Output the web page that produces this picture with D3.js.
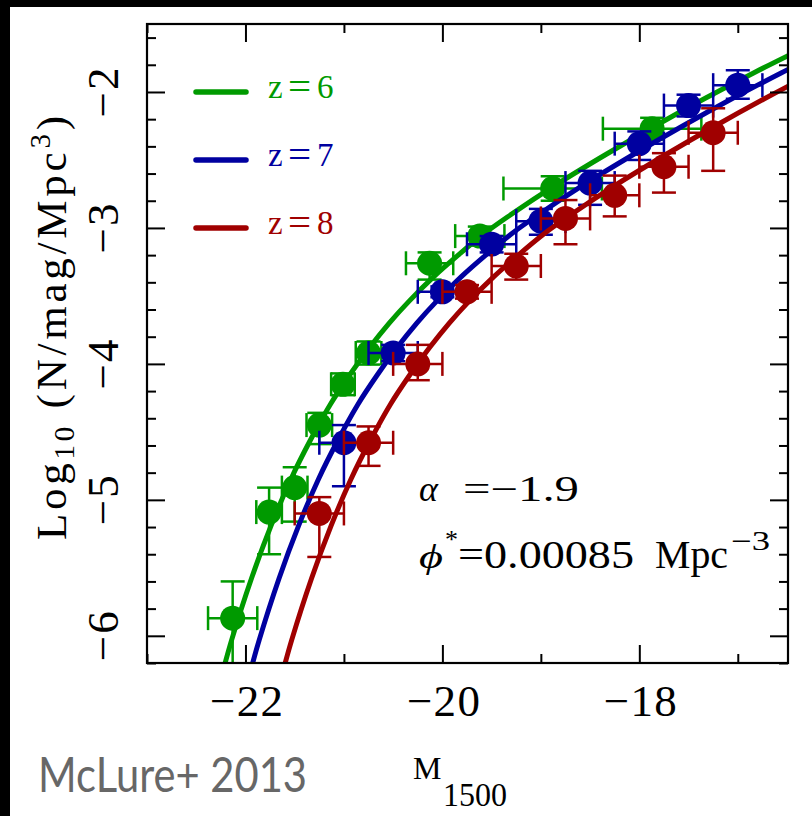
<!DOCTYPE html>
<html>
<head>
<meta charset="utf-8">
<script src="https://cdn.jsdelivr.net/npm/d3@7"></script>
<style>
  html, body { margin: 0; padding: 0; background: #000; }
  svg { display: block; }
</style>
</head>
<body>
<svg id="chart" width="812" height="816"></svg>
<script>
// UV luminosity functions at z = 6, 7, 8 with Schechter fits
// (alpha = -1.9, phi* = 0.00085 Mpc^-3), after McLure et al. 2013.

const seriesNames = ["z=6", "z=7", "z=8"];
const seriesColors = ["#009a00", "#0000a0", "#a00000"];

// Binned measurements: M1500, log10 number density and its errors
const z6M      = [-22.13, -21.76, -21.50, -21.25, -21.01, -20.75, -20.13, -19.62, -18.88, -17.87];
const z6LogPhi = [-5.87, -5.09, -4.91, -4.45, -4.15, -3.92, -3.26, -3.06, -2.71, -2.27];
const z6ErrM   = [0.25, 0.13, 0.13, 0.13, 0.12, 0.13, 0.24, 0.25, 0.50, 0.50];
const z6ErrUp  = [0.27, 0.18, 0.15, 0.09, 0.08, 0.085, 0.08, 0.07, 0.09, 0.08];
const z6ErrLo  = [0.45, 0.31, 0.25, 0.14, 0.08, 0.085, 0.12, 0.07, 0.09, 0.08];

const z7M      = [-21.00, -20.50, -20.00, -19.50, -19.00, -18.50, -18.00, -17.50, -17.00];
const z7LogPhi = [-4.58, -3.92, -3.47, -3.12, -2.95, -2.67, -2.38, -2.10, -1.95];
const z7ErrM   = [0.25, 0.25, 0.25, 0.25, 0.25, 0.25, 0.25, 0.25, 0.25];
const z7ErrUp  = [0.13, 0.06, 0.04, 0.06, 0.09, 0.09, 0.09, 0.08, 0.11];
const z7ErrLo  = [0.32, 0.06, 0.04, 0.06, 0.10, 0.16, 0.12, 0.08, 0.10];

const z8M      = [-21.25, -20.75, -20.25, -19.75, -19.25, -18.75, -18.25, -17.75, -17.25];
const z8LogPhi = [-5.10, -4.58, -4.00, -3.47, -3.28, -2.93, -2.76, -2.55, -2.30];
const z8ErrM   = [0.25, 0.25, 0.25, 0.25, 0.25, 0.25, 0.25, 0.25, 0.25];
const z8ErrUp  = [0.12, 0.12, 0.14, 0.05, 0.09, 0.135, 0.145, 0.10, 0.18];
const z8ErrLo  = [0.32, 0.17, 0.12, 0.05, 0.10, 0.19, 0.155, 0.19, 0.28];

// Fitted curves, sampled along magnitude
const z6FitM      = [-22.34, -22.24, -22.14, -21.94, -21.74, -21.54, -21.34, -21.14, -20.94, -20.74, -20.54, -20.34, -20.09, -19.84, -19.59, -19.34, -18.84, -18.34, -17.84, -17.34, -16.84, -16.34];
const z6FitLogPhi = [-6.57, -6.29, -6.03, -5.58, -5.19, -4.85, -4.56, -4.30, -4.08, -3.88, -3.70, -3.54, -3.36, -3.20, -3.05, -2.92, -2.68, -2.46, -2.25, -2.05, -1.86, -1.68];
const z7FitM      = [-22.06, -21.96, -21.86, -21.66, -21.46, -21.26, -21.06, -20.86, -20.66, -20.46, -20.26, -20.06, -19.81, -19.56, -19.31, -19.06, -18.56, -18.06, -17.56, -17.06, -16.56, -16.06];
const z7FitLogPhi = [-6.57, -6.29, -6.03, -5.58, -5.19, -4.85, -4.56, -4.30, -4.08, -3.88, -3.70, -3.54, -3.36, -3.20, -3.05, -2.92, -2.68, -2.46, -2.25, -2.05, -1.86, -1.68];
const z8FitM      = [-21.73, -21.63, -21.53, -21.33, -21.13, -20.93, -20.73, -20.53, -20.33, -20.13, -19.93, -19.73, -19.48, -19.23, -18.98, -18.73, -18.23, -17.73, -17.23, -16.73, -16.23, -15.73];
const z8FitLogPhi = [-6.57, -6.29, -6.03, -5.58, -5.19, -4.85, -4.56, -4.30, -4.08, -3.88, -3.70, -3.54, -3.36, -3.20, -3.05, -2.92, -2.68, -2.46, -2.25, -2.05, -1.86, -1.68];

// Axis ticks
const xMajorTicks = [-22, -20, -18];
const xMinorTicks = [-23, -21, -19, -17];
const yMajorTicks = [-6, -5, -4, -3, -2];
const yMinorTicks = d3.range(-6.2, -1.49, 0.2).map(v => +v.toFixed(1)).filter(v => !yMajorTicks.includes(v));

const xDomain = [-23, -16.49];
const yDomain = [-6.2, -1.5];

// ---------------------------------------------------------------
const svg = d3.select("#chart");
const W = 812, H = 816;
const plot = { left: 147, right: 788, top: 24, bottom: 663 };
const serif = "'Liberation Serif', 'Times New Roman', serif";
const intFmt = d3.format("d");

svg.append("rect").attr("width", W).attr("height", H).attr("fill", "#000");
svg.append("rect").attr("x", 10).attr("y", 7).attr("width", W - 10).attr("height", H - 7).attr("fill", "#fff");

const x = d3.scaleLinear().domain(xDomain).range([plot.left, plot.right]);
const y = d3.scaleLinear().domain(yDomain).range([plot.bottom, plot.top]);

svg.append("defs").append("clipPath").attr("id", "plotClip")
  .append("rect")
  .attr("x", plot.left).attr("y", plot.top)
  .attr("width", plot.right - plot.left).attr("height", plot.bottom - plot.top);

const series = [
  { name: seriesNames[0], color: seriesColors[0], M: z6M, v: z6LogPhi, eM: z6ErrM, eUp: z6ErrUp, eLo: z6ErrLo, fitM: z6FitM, fitV: z6FitLogPhi },
  { name: seriesNames[1], color: seriesColors[1], M: z7M, v: z7LogPhi, eM: z7ErrM, eUp: z7ErrUp, eLo: z7ErrLo, fitM: z7FitM, fitV: z7FitLogPhi },
  { name: seriesNames[2], color: seriesColors[2], M: z8M, v: z8LogPhi, eM: z8ErrM, eUp: z8ErrUp, eLo: z8ErrLo, fitM: z8FitM, fitV: z8FitLogPhi }
];

const line = d3.line()
  .x(d => x(d[0])).y(d => y(d[1]))
  .curve(d3.curveCatmullRom.alpha(0.5));

const data = svg.append("g").attr("clip-path", "url(#plotClip)");
const cap = 12;

series.forEach(s => {
  const g = data.append("g");
  g.append("path")
    .datum(s.fitM.map((m, i) => [m, s.fitV[i]]))
    .attr("d", line)
    .attr("fill", "none")
    .attr("stroke", s.color)
    .attr("stroke-width", 5)
    .attr("stroke-linecap", "round");

  const pts = s.M.map((m, i) => ({ m, v: s.v[i], eM: s.eM[i], up: s.eUp[i], lo: s.eLo[i] }));
  const eb = g.append("g").attr("stroke", s.color).attr("stroke-width", 2.5).attr("fill", "none");
  pts.forEach(p => {
    const cx = x(p.m), cy = y(p.v);
    const x0 = x(p.m - p.eM), x1 = x(p.m + p.eM);
    const y0 = y(p.v + p.up), y1 = y(p.v - p.lo);
    eb.append("line").attr("x1", x0).attr("x2", x1).attr("y1", cy).attr("y2", cy);
    eb.append("line").attr("x1", x0).attr("x2", x0).attr("y1", cy - cap).attr("y2", cy + cap);
    eb.append("line").attr("x1", x1).attr("x2", x1).attr("y1", cy - cap).attr("y2", cy + cap);
    eb.append("line").attr("x1", cx).attr("x2", cx).attr("y1", y0).attr("y2", y1);
    eb.append("line").attr("x1", cx - cap).attr("x2", cx + cap).attr("y1", y0).attr("y2", y0);
    eb.append("line").attr("x1", cx - cap).attr("x2", cx + cap).attr("y1", y1).attr("y2", y1);
  });
  g.append("g").selectAll("circle").data(pts).join("circle")
    .attr("cx", d => x(d.m)).attr("cy", d => y(d.v))
    .attr("r", 12.5).attr("fill", s.color);
});

// ---- axes: ticks point into the frame on all four sides
const axisG = svg.append("g").attr("font-family", serif);
function tickAxis(gen, scale, vals, len, tx, ty) {
  const a = axisG.append("g")
    .attr("transform", `translate(${tx},${ty})`)
    .call(gen(scale).tickValues(vals).tickSizeInner(-len).tickSizeOuter(0).tickFormat(""));
  a.select(".domain").remove();
  a.selectAll(".tick line").attr("stroke", "#000").attr("stroke-width", 2);
  return a;
}
tickAxis(d3.axisBottom, x, xMinorTicks, 9, 0, plot.bottom);
tickAxis(d3.axisTop, x, xMinorTicks, 9, 0, plot.top);
tickAxis(d3.axisTop, x, xMajorTicks, 18, 0, plot.top);
tickAxis(d3.axisLeft, y, yMinorTicks, 9, plot.left, 0);
tickAxis(d3.axisRight, y, yMinorTicks, 9, plot.right, 0);
tickAxis(d3.axisRight, y, yMajorTicks, 18, plot.right, 0);

const xAxis = axisG.append("g")
  .attr("transform", `translate(0,${plot.bottom})`)
  .call(d3.axisBottom(x).tickValues(xMajorTicks).tickFormat(intFmt)
    .tickSizeInner(-18).tickSizeOuter(0).tickPadding(21));
xAxis.select(".domain").remove();
xAxis.selectAll(".tick line").attr("stroke", "#000").attr("stroke-width", 2);
xAxis.selectAll(".tick text")
  .attr("font-family", serif).attr("font-size", 45).attr("fill", "#000")
  .attr("textLength", 73).attr("lengthAdjust", "spacing")
  .attr("x", -36).attr("text-anchor", "start");

const yAxis = axisG.append("g")
  .attr("transform", `translate(${plot.left},0)`)
  .call(d3.axisLeft(y).tickValues(yMajorTicks).tickFormat(intFmt)
    .tickSizeInner(-18).tickSizeOuter(0).tickPadding(29));
yAxis.select(".domain").remove();
yAxis.selectAll(".tick line").attr("stroke", "#000").attr("stroke-width", 2);
yAxis.selectAll(".tick text")
  .attr("font-family", serif).attr("font-size", 45).attr("fill", "#000")
  .attr("textLength", 50).attr("lengthAdjust", "spacing")
  .attr("x", -25).attr("dy", null)
  .attr("text-anchor", "start")
  .attr("transform", "translate(-29,0) rotate(-90)");

// frame
svg.append("rect")
  .attr("x", plot.left).attr("y", plot.top)
  .attr("width", plot.right - plot.left).attr("height", plot.bottom - plot.top)
  .attr("fill", "none").attr("stroke", "#000").attr("stroke-width", 2.2);

// ---- legend
const legendY = [92, 160, 228];
series.forEach((s, i) => {
  svg.append("line")
    .attr("x1", 196).attr("x2", 246).attr("y1", legendY[i]).attr("y2", legendY[i])
    .attr("stroke", s.color).attr("stroke-width", 5.5).attr("stroke-linecap", "round");
  const t = svg.append("text")
    .attr("y", legendY[i] + 6)
    .attr("font-family", serif).attr("font-size", 33).attr("fill", s.color);
  const [zc, eq, num] = [s.name.slice(0, 1), s.name.slice(1, 2), s.name.slice(2)];
  t.append("tspan").attr("x", 268).text(zc);
  t.append("tspan").attr("x", 288).attr("dy", 2).attr("font-size", 41).text(eq);
  t.append("tspan").attr("x", 317).attr("dy", -2).text(num);
});

// ---- annotations
function chunk(px, py, str, size, opts = {}) {
  const t = svg.append("text")
    .attr("x", px).attr("y", py)
    .attr("font-family", opts.family || serif).attr("font-size", size).attr("fill", opts.color || "#000")
    .text(str);
  if (opts.italic) t.attr("font-style", "italic");
  if (opts.len) t.attr("textLength", opts.len).attr("lengthAdjust", "spacingAndGlyphs");
  return t;
}
chunk(419, 501, "α", 36, { italic: true });
chunk(463, 501, "=−1.9", 35, { len: 116 });
chunk(419, 568, "ϕ", 34, { italic: true, family: "'Liberation Serif', 'DejaVu Serif', serif", len: 24 });
chunk(445, 548, "*", 26);
chunk(458, 568, "=0.00085", 39, { len: 176 });
chunk(655, 568, "Mpc", 39, { len: 73 });
chunk(731, 550, "−3", 27, { len: 39 });

// ---- axis titles
const yTitle = svg.append("text")
  .attr("transform", "translate(66,540) rotate(-90)")
  .attr("font-family", serif).attr("font-size", 43).attr("fill", "#000")
  .attr("textLength", 424).attr("lengthAdjust", "spacing");
yTitle.append("tspan").text("Log");
yTitle.append("tspan").attr("font-size", 29).attr("dy", 8).text("10");
yTitle.append("tspan").attr("dy", -8).text(" (N/mag/Mpc");
yTitle.append("tspan").attr("font-size", 29).attr("dy", -16).text("3");
yTitle.append("tspan").attr("dy", 16).text(")");

chunk(413, 779, "M", 32);
chunk(443, 806, "1500", 33, { len: 64 });

svg.append("text")
  .attr("x", 38).attr("y", 792)
  .attr("font-family", "Lato, 'Open Sans', sans-serif").attr("font-size", 48)
  .attr("fill", "#676767")
  .attr("textLength", 269).attr("lengthAdjust", "spacingAndGlyphs")
  .text("McLure+ 2013");
</script>
</body>
</html>
